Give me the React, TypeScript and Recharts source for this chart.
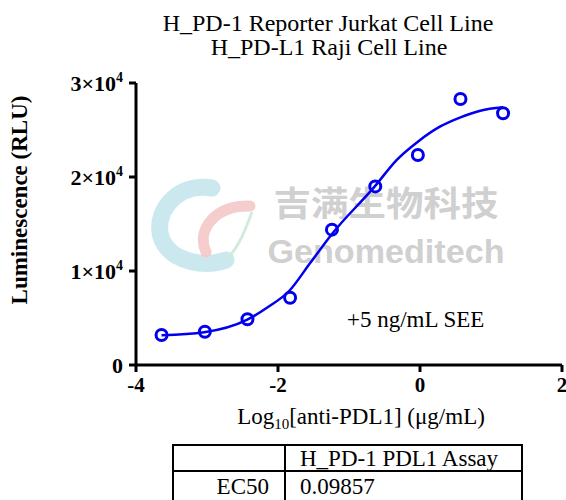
import React from "react";
import { ComposedChart, Line, Scatter, XAxis, YAxis } from "recharts";

// measured points: log10 concentration vs luminescence
const logConc = [-3.64, -3.03, -2.43, -1.83, -1.24, -0.63, -0.03, 0.57, 1.17];
const rlu = [3190, 3540, 4860, 7150, 14400, 19000, 22340, 28300, 26780];

// fitted curve
const fitX = [-3.64, -3.04, -2.44, -2.14, -1.84, -1.55, -1.24, -0.64, -0.33, -0.03, 0.28, 0.57, 0.85, 1.17];
const fitY = [3160, 3480, 4790, 6170, 7900, 10820, 13940, 18970, 21800, 23760, 25350, 26350, 27050, 27410];

const xTicks = [-4, -2, 0, 2];
const yTicks = [0, 10000, 20000, 30000];
const yTickLabels = ["0", "1×10", "2×10", "3×10"];

const tableHeader = "H_PD-1 PDL1 Assay";
const tableRowLabel = "EC50";
const tableRowValue = "0.09857";

const points = logConc.map((x, i) => ({ x, y: rlu[i] }));
const fit = fitX.map((x, i) => ({ x, y: fitY[i] }));

const BLUE = "#0000ee";
const serif = "'Liberation Serif', 'Times New Roman', serif";

const YTick = (props: any) => {
  const { x, y, payload } = props;
  const i = yTicks.indexOf(payload.value);
  return (
    <text x={x - 4} y={y + 8} textAnchor="end" fontFamily={serif} fontWeight="bold" fontSize={22} fill="#000">
      <tspan>{yTickLabels[i]}</tspan>
      {i > 0 && (
        <tspan dy={-9} fontSize={14}>
          4
        </tspan>
      )}
    </text>
  );
};

const XTick = (props: any) => {
  const { x, y, payload } = props;
  return (
    <text x={x} y={y + 18} textAnchor="middle" fontFamily={serif} fontWeight="bold" fontSize={21} fill="#000">
      {payload.value}
    </text>
  );
};

const Dot = (props: any) => {
  const { cx, cy } = props;
  return <circle cx={cx} cy={cy} r={5.5} fill="none" stroke={BLUE} strokeWidth={3} />;
};

export default function App() {
  return (
    <div style={{ position: "absolute", left: 0, top: 0, width: 566, height: 500, background: "#fff", overflow: "hidden" }}>
      {/* watermark */}
      <svg width={566} height={500} style={{ position: "absolute", left: 0, top: 0 }}>
        <path d="M 212 188 C 175 182, 152 215, 162 240 C 172 262, 205 268, 226 260" fill="none" stroke="#c3e4ec" strokeWidth={17} strokeLinecap="round" opacity={0.85} />
        <path d="M 206 252 C 196 230, 215 205, 250 206" fill="none" stroke="#f4c4c4" strokeWidth={11} strokeLinecap="round" opacity={0.85} />
        <path d="M 252 212 C 245 230, 240 245, 228 258" fill="none" stroke="#cfe8d8" strokeWidth={3} opacity={0.9} />
        <text x={386} y={216} textAnchor="middle" textLength={225} lengthAdjust="spacingAndGlyphs" fontFamily="'Noto Sans CJK SC', sans-serif" fontWeight="bold" fontSize={34} fill="#d0d0d0">
          吉满生物科技
        </text>
        <text x={386} y={263} textAnchor="middle" textLength={237} lengthAdjust="spacingAndGlyphs" fontFamily="'Liberation Sans', Arial, sans-serif" fontWeight="bold" fontSize={33} fill="#d0d0d0">
          Genomeditech
        </text>
      </svg>

      <div style={{ position: "absolute", left: 0, top: 0 }}>
        <ComposedChart width={566} height={500} margin={{ top: 83, right: 4, left: 0, bottom: 0 }}>
          <XAxis
            type="number"
            dataKey="x"
            domain={[-4, 2]}
            ticks={xTicks}
            allowDataOverflow
            height={135}
            tickSize={7}
            axisLine={{ stroke: "#000", strokeWidth: 3 }}
            tickLine={{ stroke: "#000", strokeWidth: 3 }}
            tick={<XTick />}
          />
          <YAxis
            type="number"
            dataKey="y"
            domain={[0, 30000]}
            ticks={yTicks}
            width={136}
            tickSize={7}
            axisLine={{ stroke: "#000", strokeWidth: 3 }}
            tickLine={{ stroke: "#000", strokeWidth: 3 }}
            tick={<YTick />}
          />
          <Line data={fit} type="monotone" dataKey="y" stroke={BLUE} strokeWidth={2.5} dot={false} activeDot={false} isAnimationActive={false} />
          <Scatter data={points} dataKey="y" shape={<Dot />} isAnimationActive={false} />
        </ComposedChart>
      </div>

      {/* titles, labels, table */}
      <svg width={566} height={500} style={{ position: "absolute", left: 0, top: 0 }} fontFamily={serif} fill="#000">
        <text x={328} y={31} textAnchor="middle" fontSize={24}>
          H_PD-1 Reporter Jurkat Cell Line
        </text>
        <text x={329} y={55} textAnchor="middle" fontSize={24}>
          H_PD-L1 Raji Cell Line
        </text>
        <text x={27} y={200} textAnchor="middle" fontSize={23} fontWeight="bold" transform="rotate(-90 27 200)">
          Luminescence (RLU)
        </text>
        <text x={361} y={424} textAnchor="middle" fontSize={23}>
          Log<tspan fontSize={15} dy={5}>10</tspan>
          <tspan dy={-5}>[anti-PDL1] (μg/mL)</tspan>
        </text>
        <text x={347} y={327} fontSize={23}>
          +5 ng/mL SEE
        </text>

        <g stroke="#000" strokeWidth={2}>
          <line x1={172} y1={445} x2={523} y2={445} />
          <line x1={172} y1={471} x2={523} y2={471} />
          <line x1={173} y1={444} x2={173} y2={502} />
          <line x1={285} y1={444} x2={285} y2={502} />
          <line x1={522} y1={444} x2={522} y2={502} />
        </g>
        <text x={300} y={466} fontSize={23}>
          {tableHeader}
        </text>
        <text x={269} y={494} textAnchor="end" fontSize={23}>
          {tableRowLabel}
        </text>
        <text x={300} y={494} fontSize={23}>
          {tableRowValue}
        </text>
      </svg>
    </div>
  );
}
